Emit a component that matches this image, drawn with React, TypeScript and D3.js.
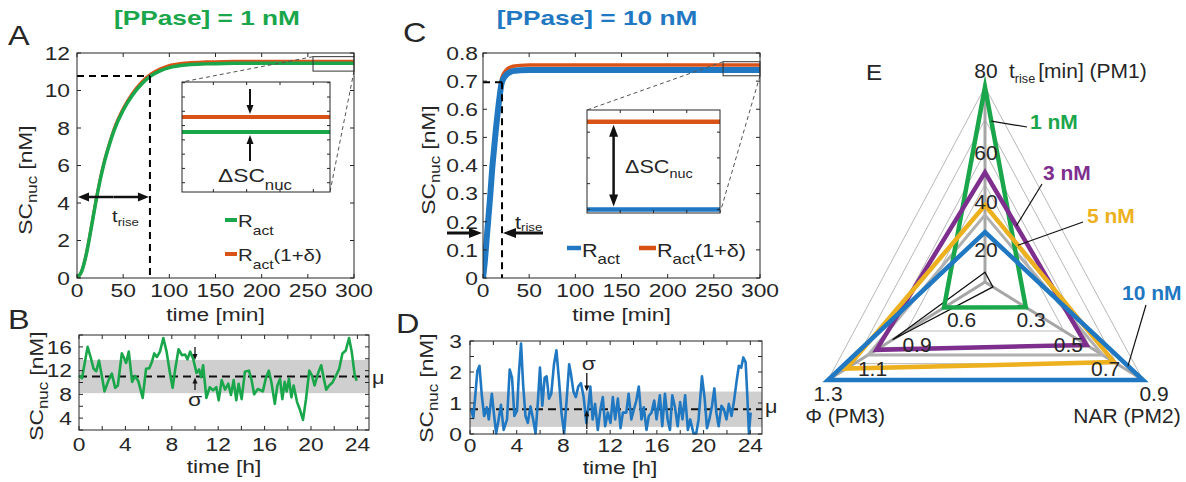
import React from 'react';
import * as d3 from 'd3';

// ================= DATA =================
const titleA = '[PPase] = 1 nM';
const titleC = '[PPase] = 10 nM';

// Panel A: deterministic rise, [PPase] = 1 nM
const timeA = [0, 5, 10, 15, 20, 25, 30, 35, 40, 50, 60, 70, 80, 90, 100, 120, 140, 160, 200, 250, 300];
const ractA = [0, 0.35, 1.25, 2.55, 3.95, 5.2, 6.25, 7.1, 7.85, 8.95, 9.75, 10.35, 10.78, 11.05, 11.22, 11.37, 11.42, 11.445, 11.455, 11.455, 11.455];
const ractDeltaA = [0, 0.36, 1.27, 2.58, 3.99, 5.25, 6.31, 7.17, 7.93, 9.04, 9.85, 10.45, 10.88, 11.15, 11.33, 11.48, 11.53, 11.55, 11.56, 11.56, 11.56];
const riseA = { time: 79, level: 10.78, arrowLevel: 4.32 };
const xTicksMin = [0, 50, 100, 150, 200, 250, 300];
const yTicksA = [0, 2, 4, 6, 8, 10, 12];

// Panel C: deterministic rise, [PPase] = 10 nM
const timeC = [0, 2, 4, 6, 8, 10, 12, 14, 16, 18, 20, 22, 25, 30, 35, 40, 50, 60, 80, 100, 150, 200, 250, 300];
const ractC = [0, 0.06, 0.14, 0.22, 0.3, 0.39, 0.46, 0.53, 0.59, 0.645, 0.69, 0.708, 0.722, 0.733, 0.737, 0.739, 0.74, 0.74, 0.74, 0.74, 0.74, 0.74, 0.74, 0.74];
const ractDeltaC = [0, 0.061, 0.142, 0.225, 0.307, 0.399, 0.471, 0.543, 0.605, 0.661, 0.707, 0.725, 0.739, 0.75, 0.754, 0.756, 0.757, 0.757, 0.757, 0.757, 0.757, 0.757, 0.757, 0.757];
const riseC = { time: 20.6, level: 0.696, arrowLevel: 0.16 };
const yTicksC = [0, 0.1, 0.2, 0.3, 0.4, 0.5, 0.6, 0.7, 0.8];

// Panel B: stochastic trajectory, 1 nM
const timeB = [0, 0.26, 0.74, 0.97, 1.26, 1.49, 1.72, 1.97, 2.2, 2.55, 2.83, 3.12, 3.35, 3.69, 3.89, 4.06, 4.29, 4.58, 4.83, 5.12, 5.49, 5.78, 6.06, 6.29, 6.49, 6.72, 6.98, 7.27, 7.55, 7.84, 8.07, 8.3, 8.58, 8.87, 9.15, 9.35, 9.58, 9.84, 10.13, 10.35, 10.53, 10.7, 10.98, 11.27, 11.56, 11.84, 12.04, 12.3, 12.59, 12.87, 13.1, 13.33, 13.56, 13.76, 14.02, 14.3, 14.65, 14.87, 15.1, 15.42, 15.85, 16.13, 16.36, 16.59, 16.88, 17.1, 17.33, 17.53, 17.73, 17.9, 18.1, 18.31, 18.5, 18.8, 19.05, 19.31, 19.57, 19.85, 20.08, 20.31, 20.6, 20.88, 21.08, 21.31, 21.57, 21.85, 22.14, 22.43, 22.71, 23.0, 23.28, 23.51, 23.77, 23.94];
const scB = [11.2, 10.7, 16, 14.5, 12.3, 11.9, 13.7, 11.1, 8.5, 10.4, 11.5, 9.1, 9.5, 14.9, 14.1, 13.3, 15.2, 10.1, 11.1, 10.2, 7.4, 12.3, 12.4, 13.5, 14.9, 14.3, 15.2, 17.5, 15.2, 11.6, 9.1, 12.3, 15.6, 14.6, 14.7, 13.9, 15.2, 14, 11.6, 12.2, 10.9, 12.9, 7.4, 9.2, 8.7, 9.2, 7, 10.4, 8.8, 9.8, 7.9, 10.4, 7, 9.8, 7.2, 11.8, 12, 10.5, 8, 8.9, 8.5, 10.9, 12, 10, 6.4, 9.5, 10.6, 7.2, 10.1, 8.5, 10.6, 7.5, 9.5, 6.7, 5.4, 3.7, 7.2, 12, 11.2, 9.5, 11.5, 12.9, 10.9, 8.8, 9.5, 10, 11.1, 12.3, 14.9, 15.4, 17.5, 15.2, 11.2, 10.3];
const statsB = { mu: 11, sigma: 2.8, arrowTime: 10 };
const yTicksB = [4, 8, 12, 16];
const yMinorB = [2, 4, 6, 8, 10, 12, 14, 16, 18];

// Panel D: stochastic trajectory, 10 nM
const timeD = [0.09, 0.29, 0.63, 0.81, 1.01, 1.21, 1.44, 1.61, 1.87, 2.07,
  2.24, 2.45, 2.65, 2.88, 3.17, 3.4, 3.6, 3.8, 4.03, 4.17,
  4.37, 4.55, 4.75, 4.95, 5.18, 5.41, 5.61, 5.81, 5.99, 6.19,
  6.39, 6.56, 6.76, 6.96, 7.19, 7.4, 7.63, 7.83, 8.06, 8.26,
  8.49, 8.63, 8.86, 9.06, 9.27, 9.5, 9.73, 9.96, 10.13, 10.3,
  10.5, 10.71, 10.94, 11.17, 11.37, 11.57, 11.8, 12.03, 12.23, 12.43,
  12.66, 12.89, 13.09, 13.38, 13.58, 13.81, 14.04, 14.24, 14.45, 14.68,
  14.88, 15.11, 15.31, 15.54, 15.77, 15.97, 16.26, 16.46, 16.69, 16.92,
  17.12, 17.32, 17.55, 17.78, 17.99, 18.19, 18.42, 18.65, 18.85, 19.14,
  19.37, 19.57, 19.86, 20.09, 20.29, 20.49, 20.72, 20.92, 21.09, 21.29,
  21.53, 21.73, 21.96, 22.16, 22.39, 22.59, 22.82, 23.02, 23.22, 23.4,
  23.6, 23.74, 23.88, 24.03];
const scD = [0.8, 0.52, 2.03, 2.2, 1.25, 0.58, 0.86, 0.47, 1.3, 0.58,
  0.02, 0.47, 0.94, 0.13, 0.47, 2.08, 1.81, 0.58, 0.75, 1.86,
  2.92, 1.58, 0.58, 0.36, 0.89, 0.47, 0.02, 1.03, 2.14, 0.91,
  1.81, 1.86, 1.14, 1.3, 2.25, 2.7, 1.69, 0.69, 0.02, 1.03,
  2.25, 1.97, 1.36, 1.19, 1.53, 1.64, 1.19, 0.36, 0.86, 1.53,
  0.47, 0.97, 0.13, 0.8, 1.19, 0.25, 0.69, 0.36, 1.19, 0.47,
  1.14, 0.19, 0.69, 0.69, 1.3, 0.47, 0.8, 1.08, 1.53, 0.47,
  0.86, 0.13, 0.58, 0.69, 1.08, 0.47, 1.25, 0.25, 1.3, 0.47,
  0.13, 1.25, 0.86, 0.25, 1.03, 0.47, 1.25, 0.13, 0.47, 0.02,
  0.02, 0.47, 1.86, 1.14, 0.19, 0.47, 0.91, 1.47, 0.69, 0.25,
  0.91, 0.8, 0.47, 0.97, 0.58, 1.03, 1.69, 2.2, 2.14, 2.47,
  2.31, 1.25, 0.02, 0.69];
const statsD = { mu: 0.8, sigma: 0.57, arrowTime: 10 };
const yTicksD = [0, 1, 2, 3];
const yMinorD = [0, 0.5, 1, 1.5, 2, 2.5, 3];
const xTicksH = [0, 4, 8, 12, 16, 20, 24];
const xMinorH = [0, 2, 4, 6, 8, 10, 12, 14, 16, 18, 20, 22, 24];

// Panel E: radar chart of performance measures
const radarNames = ['1 nM', '3 nM', '5 nM', '10 nM'];
const radarTrise = [80, 45, 31.5, 20.5];
const radarNAR = [0.01, 0.47, 0.68, 0.9];
const radarPhi = [0.17, 0.93, 1.16, 1.3];
const greyTrise = 27.5, greyNAR = 0.594, greyPhi = 0.994;
const blackTrise = 4, blackNAR = -0.24, blackPhi = 0.76;
const tRiseTicks = [20, 40, 60, 80];
const narTicks = [0.3, 0.5, 0.7, 0.9];
const phiTicks = [0.6, 0.9, 1.1, 1.3];

// ================= STYLE =================
const FONT = "'Liberation Sans', Arial, Helvetica, sans-serif";
const INK = '#262626';
const GREEN = '#1aa64b';
const ORANGE = '#d95319';
const BLUE = '#1f78c1';
const PURPLE = '#7e2f8e';
const YELLOW = '#edb120';
const SX = 1.2;
const FS = 19;

function Txt({ x, y, size = FS, anchor = 'start', fill = INK, weight = 400, rot = 0, sx = SX, children }: any) {
  const tr = `translate(${x},${y})${rot ? ` rotate(${rot})` : ''} scale(${sx},1)`;
  return (
    <text transform={tr} fontSize={size} textAnchor={anchor} fill={fill} fontWeight={weight} fontFamily={FONT}>
      {children}
    </text>
  );
}

function Arrow({ x1, y1, x2, y2, w = 2, hl = 8, hw = 7, color = INK }: any) {
  const dx = x2 - x1, dy = y2 - y1, L = Math.hypot(dx, dy);
  const ux = dx / L, uy = dy / L;
  const bx = x2 - ux * hl, by = y2 - uy * hl;
  const px = -uy, py = ux;
  return (
    <g>
      <line x1={x1} y1={y1} x2={bx + ux * 1} y2={by + uy * 1} stroke={color} strokeWidth={w} />
      <polygon points={`${x2},${y2} ${bx + (px * hw) / 2},${by + (py * hw) / 2} ${bx - (px * hw) / 2},${by - (py * hw) / 2}`} fill={color} />
    </g>
  );
}

function Frame({ xs, ys, xMajor, yMajor, xMinor, yMinor, fmtY, xLabGap = 19, yLabGap = 6, tl = 4, labels = true }: any) {
  const [x0, x1] = xs.range();
  const [yb, yt] = ys.range();
  const xm = xMinor || xMajor;
  const ym = yMinor || yMajor;
  const f = fmtY || ((d: number) => String(d));
  return (
    <g>
      <rect x={x0} y={yt} width={x1 - x0} height={yb - yt} fill="none" stroke={INK} strokeWidth={1} />
      {xm.map((v: number) => (
        <g key={'x' + v} stroke={INK} strokeWidth={1}>
          <line x1={xs(v)} x2={xs(v)} y1={yb} y2={yb - tl} />
          <line x1={xs(v)} x2={xs(v)} y1={yt} y2={yt + tl} />
        </g>
      ))}
      {ym.map((v: number) => (
        <g key={'y' + v} stroke={INK} strokeWidth={1}>
          <line x1={x0} x2={x0 + tl} y1={ys(v)} y2={ys(v)} />
          <line x1={x1} x2={x1 - tl} y1={ys(v)} y2={ys(v)} />
        </g>
      ))}
      {labels && xMajor.map((v: number) => (
        <Txt key={'xl' + v} x={xs(v)} y={yb + xLabGap} anchor="middle">{String(v)}</Txt>
      ))}
      {labels && yMajor.map((v: number) => (
        <Txt key={'yl' + v} x={x0 - yLabGap} y={ys(v) + 6.8} anchor="end">{f(v)}</Txt>
      ))}
    </g>
  );
}

function YLabel({ x, y }: any) {
  return (
    <Txt x={x} y={y} rot={-90} anchor="middle">
      SC<tspan fontSize={14} dy={5}>nuc</tspan>
      <tspan dy={-5}> [nM]</tspan>
    </Txt>
  );
}

export default function App() {
  // ---- scales ----
  const xA = d3.scaleLinear([0, 300], [77, 354]);
  const yA = d3.scaleLinear([0, 12], [278, 53]);
  const xAi = d3.scaleLinear([255.6, 300], [182, 330]);
  const yAi = d3.scaleLinear([11.035, 11.805], [192, 82]);
  const xC = d3.scaleLinear([0, 300], [483, 760]);
  const yC = d3.scaleLinear([0, 0.8], [278, 53]);
  const xCi = d3.scaleLinear([260, 300], [587, 720]);
  const yCi = d3.scaleLinear([0.7393, 0.7593], [213, 110]);
  const boxC = { t: [260, 300], v: [0.719, 0.769] };
  const xB = d3.scaleLinear([0, 25], [79, 369]);
  const yB = d3.scaleLinear([2, 18], [430, 335]);
  const xD = d3.scaleLinear([0, 25], [470, 762]);
  const yD = d3.scaleLinear([0, 3], [434, 341]);

  const lineOf = (xs: any, ys: any, curve: any = d3.curveMonotoneX) =>
    d3.line<[number, number]>().x((d) => xs(d[0])).y((d) => ys(d[1])).curve(curve);

  const dA = d3.zip(timeA, ractA) as [number, number][];
  const dAd = d3.zip(timeA, ractDeltaA) as [number, number][];
  const dC = d3.zip(timeC, ractC) as [number, number][];
  const dCd = d3.zip(timeC, ractDeltaC) as [number, number][];
  const dB = d3.zip(timeB, scB) as [number, number][];
  const dD = d3.zip(timeD, scD) as [number, number][];

  // ---- radar geometry ----
  const RC = { x: 985, y: 282 };
  const dTop = [0, -195], dLeft = [-157, 98], dRight = [158, 98];
  const fT = d3.scaleLinear([0, 80], [0, 1]);
  const fNAR = d3.scaleLinear([-0.3, 0.9], [0, 1]);
  const fPhi = d3.scaleLinear(phiTicks, [0.5, 2 / 3, 5 / 6, 1]);
  const P = (dir: number[], f: number) => [RC.x + dir[0] * f, RC.y + dir[1] * f];
  const tri = (t: number, nar: number, phi: number) => [P(dTop, fT(t)), P(dLeft, fPhi(phi)), P(dRight, fNAR(nar))];
  const polyStr = (pts: number[][]) => pts.map((p) => p.join(',')).join(' ');
  const radarColors = [GREEN, PURPLE, YELLOW, BLUE];
  const radarPts = radarNames.map((_, i) => tri(radarTrise[i], radarNAR[i], radarPhi[i]));
  const ringF = narTicks.map((v) => fNAR(v));
  const pointerS = [0.155, 0.31, 0.255, 0.905];
  const labelPos = [[1030, 129], [1043, 180], [1087, 223], [1122, 300]];
  const pointerEnd = [[1027, 127], [1042, 184], [1083, 222], [1146, 305]];

  const riseArrowA = yA(riseA.arrowLevel);
  const riseArrowC = yC(riseC.arrowLevel);

  return (
    <svg width={1186} height={482} style={{ position: 'absolute', left: 0, top: 0, background: '#fff' }}>
      <defs>
        <clipPath id="clipAi"><rect x={182} y={82} width={148} height={110} /></clipPath>
        <clipPath id="clipCi"><rect x={587} y={110} width={133} height={103} /></clipPath>
        <clipPath id="clipA"><rect x={77} y={53} width={277} height={225} /></clipPath>
        <clipPath id="clipC"><rect x={483} y={53} width={277} height={225} /></clipPath>
      </defs>
      <rect x={0} y={0} width={1186} height={482} fill="#fff" />

      {/* ================= PANEL A ================= */}
      <Txt x={8} y={45} size={27}>A</Txt>
      <Txt x={207} y={25} size={21} weight={700} fill={GREEN} anchor="middle" sx={1.25}>{titleA}</Txt>
      <g clipPath="url(#clipA)">
        <path d={lineOf(xA, yA)(dAd) || ''} fill="none" stroke={ORANGE} strokeWidth={3} />
        <path d={lineOf(xA, yA)(dA) || ''} fill="none" stroke={GREEN} strokeWidth={3.5} />
      </g>
      <g stroke="#000" strokeWidth={2} strokeDasharray="7,5" fill="none">
        <line x1={xA(0)} x2={xA(riseA.time)} y1={yA(riseA.level)} y2={yA(riseA.level)} />
        <line x1={xA(riseA.time)} x2={xA(riseA.time)} y1={yA(riseA.level)} y2={yA(0)} />
      </g>
      <Arrow x1={(xA(0) + xA(riseA.time)) / 2} y1={riseArrowA} x2={xA(0) + 1} y2={riseArrowA} w={2.5} hl={11} hw={9} color="#111" />
      <Arrow x1={(xA(0) + xA(riseA.time)) / 2} y1={riseArrowA} x2={xA(riseA.time) - 1} y2={riseArrowA} w={2.5} hl={11} hw={9} color="#111" />
      <Txt x={112} y={222} size={17}>t<tspan fontSize={11} dy={4}>rise</tspan></Txt>
      {/* zoom box and connectors */}
      <rect x={xA(255.6)} y={yA(11.805)} width={xA(300) - xA(255.6)} height={yA(11.035) - yA(11.805)} fill="none" stroke="#333" strokeWidth={1} />
      <g stroke="#555" strokeWidth={1} strokeDasharray="4,3">
        <line x1={xA(255.6)} y1={yA(11.805)} x2={182} y2={82} />
        <line x1={xA(300)} y1={yA(11.035)} x2={330} y2={192} />
      </g>
      {/* inset A */}
      <rect x={182} y={82} width={148} height={110} fill="#fff" />
      <g clipPath="url(#clipAi)">
        <path d={lineOf(xAi, yAi)(dAd) || ''} fill="none" stroke={ORANGE} strokeWidth={4} />
        <path d={lineOf(xAi, yAi)(dA) || ''} fill="none" stroke={GREEN} strokeWidth={4} />
      </g>
      <Frame xs={xAi} ys={yAi} xMajor={[265, 275, 285, 295]} yMajor={yAi.ticks(6)} labels={false} tl={3} />
      <Arrow x1={xAi(276)} y1={89} x2={xAi(276)} y2={yAi(11.56) - 3} w={2} hl={9} hw={7} color="#111" />
      <Arrow x1={xAi(276)} y1={161} x2={xAi(276)} y2={yAi(11.455) + 3} w={2} hl={9} hw={7} color="#111" />
      <Txt x={218} y={182} size={19}>ΔSC<tspan fontSize={14} dy={8}>nuc</tspan></Txt>
      {/* legend A */}
      <line x1={225} x2={237} y1={220} y2={220} stroke={GREEN} strokeWidth={4} />
      <Txt x={238} y={227} size={17}>R<tspan fontSize={13} dy={8}>act</tspan></Txt>
      <line x1={225} x2={237} y1={254} y2={254} stroke={ORANGE} strokeWidth={4} />
      <Txt x={238} y={261} size={17}>R<tspan fontSize={13} dy={8}>act</tspan><tspan dy={-8}>(1+δ)</tspan></Txt>
      <Frame xs={xA} ys={yA} xMajor={xTicksMin} yMajor={yTicksA} yLabGap={7} />
      <YLabel x={32} y={180} />
      <Txt x={(77 + 354) / 2} y={321} anchor="middle">time [min]</Txt>

      {/* ================= PANEL B ================= */}
      <Txt x={8} y={329} size={27}>B</Txt>
      <rect x={xB(0)} y={yB(statsB.mu + statsB.sigma)} width={xB(25) - xB(0)} height={yB(statsB.mu - statsB.sigma) - yB(statsB.mu + statsB.sigma)} fill="#cfcfcf" />
      <line x1={xB(0)} x2={xB(25)} y1={yB(statsB.mu)} y2={yB(statsB.mu)} stroke="#111" strokeWidth={2} strokeDasharray="8,5" />
      <path d={lineOf(xB, yB, d3.curveLinear)(dB) || ''} fill="none" stroke={GREEN} strokeWidth={2.6} strokeLinejoin="round" />
      <Arrow x1={xB(statsB.arrowTime)} y1={347} x2={xB(statsB.arrowTime)} y2={yB(statsB.mu + statsB.sigma)} w={1.3} hl={6} hw={5} color="#111" />
      <Arrow x1={xB(statsB.arrowTime)} y1={390} x2={xB(statsB.arrowTime)} y2={yB(statsB.mu) + 1} w={1.3} hl={6} hw={5} color="#111" />
      <Txt x={xB(statsB.arrowTime)} y={406} anchor="middle" size={19}>σ</Txt>
      <Txt x={372} y={384} size={18}>μ</Txt>
      <Frame xs={xB} ys={yB} xMajor={xTicksH} xMinor={xMinorH} yMajor={yTicksB} yMinor={yMinorB} xLabGap={21} yLabGap={7} />
      <YLabel x={43} y={386} />
      <Txt x={(79 + 369) / 2} y={473} anchor="middle">time [h]</Txt>

      {/* ================= PANEL C ================= */}
      <Txt x={403} y={42} size={27}>C</Txt>
      <Txt x={597} y={25} size={21} weight={700} fill={BLUE} anchor="middle" sx={1.25}>{titleC}</Txt>
      <g clipPath="url(#clipC)">
        <path d={lineOf(xC, yC)(dCd) || ''} fill="none" stroke={ORANGE} strokeWidth={3.5} />
        <path d={lineOf(xC, yC)(dC) || ''} fill="none" stroke={BLUE} strokeWidth={6} />
      </g>
      <g stroke="#000" strokeWidth={2} strokeDasharray="7,5" fill="none">
        <line x1={xC(0)} x2={xC(riseC.time)} y1={yC(riseC.level)} y2={yC(riseC.level)} />
        <line x1={xC(riseC.time)} x2={xC(riseC.time)} y1={yC(riseC.level)} y2={yC(0)} />
      </g>
      <Arrow x1={xC(-39)} y1={riseArrowC} x2={xC(0) - 1} y2={riseArrowC} w={3} hl={13} hw={10} color="#111" />
      <Arrow x1={xC(65)} y1={riseArrowC} x2={xC(riseC.time) + 1} y2={riseArrowC} w={3} hl={13} hw={10} color="#111" />
      <Txt x={515} y={229} size={18}>t<tspan fontSize={11} dy={2}>rise</tspan></Txt>
      <rect x={xC(boxC.t[0])} y={yC(boxC.v[1])} width={xC(boxC.t[1]) - xC(boxC.t[0])} height={yC(boxC.v[0]) - yC(boxC.v[1])} fill="none" stroke="#333" strokeWidth={1} />
      <g stroke="#555" strokeWidth={1} strokeDasharray="4,3">
        <line x1={xC(boxC.t[0])} y1={yC(boxC.v[1])} x2={587} y2={110} />
        <line x1={xC(boxC.t[1])} y1={yC(boxC.v[0])} x2={720} y2={213} />
      </g>
      <rect x={587} y={110} width={133} height={103} fill="#fff" />
      <g clipPath="url(#clipCi)">
        <path d={lineOf(xCi, yCi)(dCd) || ''} fill="none" stroke={ORANGE} strokeWidth={4.5} />
        <path d={lineOf(xCi, yCi)(dC) || ''} fill="none" stroke={BLUE} strokeWidth={4.5} />
      </g>
      <Frame xs={xCi} ys={yCi} xMajor={[270, 280, 290]} yMajor={yCi.ticks(5)} labels={false} tl={3} />
      <Arrow x1={xCi(268)} y1={167} x2={xCi(268)} y2={yCi(0.757) + 3} w={2.5} hl={12} hw={9} color="#111" />
      <Arrow x1={xCi(268)} y1={167} x2={xCi(268)} y2={yCi(0.74) - 3} w={2.5} hl={12} hw={9} color="#111" />
      <Txt x={625} y={173} size={18}>ΔSC<tspan fontSize={12} dy={5}>nuc</tspan></Txt>
      {/* legend C */}
      <line x1={567} x2={581} y1={248} y2={248} stroke={BLUE} strokeWidth={4.5} />
      <Txt x={582} y={257} size={18}>R<tspan fontSize={14} dy={7}>act</tspan></Txt>
      <line x1={639} x2={656} y1={248} y2={248} stroke={ORANGE} strokeWidth={4.5} />
      <Txt x={657} y={257} size={18}>R<tspan fontSize={14} dy={7}>act</tspan><tspan dy={-7}>(1+δ)</tspan></Txt>
      <Frame xs={xC} ys={yC} xMajor={xTicksMin} yMajor={yTicksC} fmtY={(d: number) => (d === 0 ? '0' : d.toFixed(1))} yLabGap={5} />
      <YLabel x={435} y={160} />
      <Txt x={(483 + 760) / 2} y={321} anchor="middle">time [min]</Txt>

      {/* ================= PANEL D ================= */}
      <Txt x={396} y={333} size={27}>D</Txt>
      <rect x={xD(0)} y={yD(statsD.mu + statsD.sigma)} width={xD(25) - xD(0)} height={yD(statsD.mu - statsD.sigma) - yD(statsD.mu + statsD.sigma)} fill="#cfcfcf" />
      <line x1={xD(0)} x2={xD(25)} y1={yD(statsD.mu)} y2={yD(statsD.mu)} stroke="#111" strokeWidth={2} strokeDasharray="8,5" />
      <path d={lineOf(xD, yD, d3.curveLinear)(dD) || ''} fill="none" stroke={BLUE} strokeWidth={2.6} strokeLinejoin="round" />
      <Arrow x1={xD(statsD.arrowTime)} y1={373} x2={xD(statsD.arrowTime)} y2={yD(statsD.mu + statsD.sigma)} w={1.3} hl={6} hw={5} color="#111" />
      <Arrow x1={xD(statsD.arrowTime)} y1={429} x2={xD(statsD.arrowTime)} y2={yD(statsD.mu) + 1} w={1.3} hl={6} hw={5} color="#111" />
      <Txt x={xD(statsD.arrowTime) + 2} y={370} anchor="middle" size={19}>σ</Txt>
      <Txt x={765} y={413} size={18}>μ</Txt>
      <Frame xs={xD} ys={yD} xMajor={xTicksH} xMinor={xMinorH} yMajor={yTicksD} yMinor={yMinorD} xLabGap={18} yLabGap={8} />
      <YLabel x={433} y={388} />
      <Txt x={(470 + 762) / 2 + 4} y={474} anchor="middle">time [h]</Txt>

      {/* ================= PANEL E ================= */}
      <Txt x={866} y={80} size={22} sx={1.1}>E</Txt>
      {ringF.map((f, i) => (
        <polygon key={'ring' + i} points={polyStr([P(dTop, f), P(dLeft, f), P(dRight, f)])} fill="none" stroke="#b8b8b8" strokeWidth={1} />
      ))}
      {[dTop, dLeft, dRight].map((d, i) => (
        <line key={'ax' + i} x1={RC.x} y1={RC.y} x2={P(d, 1)[0]} y2={P(d, 1)[1]} stroke="#a6a6a6" strokeWidth={3} />
      ))}
      <polygon points={polyStr(tri(greyTrise, greyNAR, greyPhi))} fill="none" stroke="#b0b0b0" strokeWidth={3} />
      <polygon points={polyStr(tri(blackTrise, blackNAR, blackPhi))} fill="none" stroke="#111" strokeWidth={1.3} />
      {radarPts.map((pts, i) => (
        <polygon key={'rp' + i} points={polyStr(pts)} fill="none" stroke={radarColors[i]} strokeWidth={4.5} strokeLinejoin="miter" strokeMiterlimit={20} />
      ))}
      {radarPts.map((pts, i) => {
        const s = pointerS[i];
        const a = pts[0], b = pts[2];
        const sx0 = a[0] + (b[0] - a[0]) * s;
        const sy0 = a[1] + (b[1] - a[1]) * s;
        return (
          <g key={'pl' + i}>
            <line x1={sx0} y1={sy0} x2={pointerEnd[i][0]} y2={pointerEnd[i][1]} stroke="#111" strokeWidth={1.2} />
            <Txt x={labelPos[i][0]} y={labelPos[i][1]} size={21} weight={700} fill={radarColors[i]} sx={1.0}>{radarNames[i]}</Txt>
          </g>
        );
      })}
      {tRiseTicks.map((t) => {
        const p = P(dTop, fT(t));
        return (
          <Txt key={'tl' + t} x={p[0] + 1} y={t === 80 ? p[1] - 9 : p[1] + 24} anchor="middle" size={20} sx={1.05}>{String(t)}</Txt>
        );
      })}
      {phiTicks.map((v) => {
        const f = fPhi(v);
        const p = P(dLeft, f);
        return (
          <Txt key={'phl' + v} x={p[0] + 110 * (1 - f)} y={p[1] - 4 + 50 * (f - 0.5)} anchor="middle" size={20} sx={1.05}>{String(v)}</Txt>
        );
      })}
      {narTicks.map((v) => {
        const f = fNAR(v);
        const p = P(dRight, f);
        return (
          <Txt key={'nl' + v} x={p[0] - 66 * (1 - f) + (f > 0.99 ? 11 : 0)} y={p[1] - 4 + 50 * (f - 0.5)} anchor="middle" size={20} sx={1.05}>{String(v)}</Txt>
        );
      })}
      <Txt x={1009} y={78} size={20} sx={1.05}>t<tspan fontSize={12} dy={5}>rise</tspan><tspan dy={-5} dx={3}>[min] (PM1)</tspan></Txt>
      <Txt x={885} y={423} size={20} sx={1.05} anchor="end">Φ (PM3)</Txt>
      <Txt x={1127} y={423} size={20} sx={1.05} anchor="middle">NAR (PM2)</Txt>
    </svg>
  );
}
